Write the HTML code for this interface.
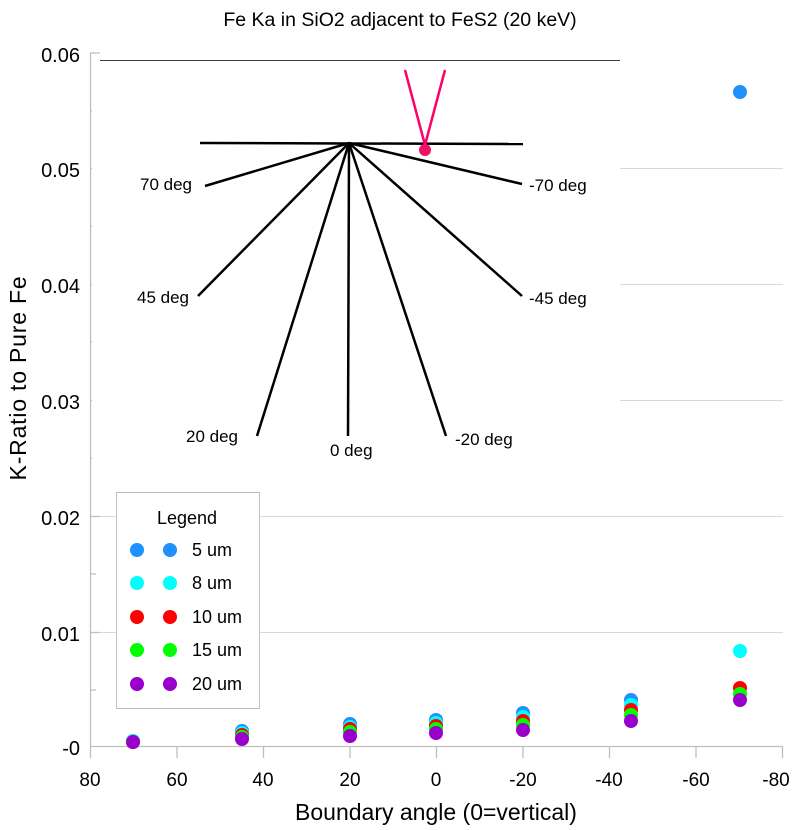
<!DOCTYPE html>
<html><head><meta charset="utf-8"><style>body{margin:0;background:#fff}svg{display:block}text{font-family:"Liberation Sans",sans-serif}</style></head><body>
<svg width="800" height="830" xmlns="http://www.w3.org/2000/svg">
<rect width="800" height="830" fill="#fff"/>
<text x="400" y="26" font-size="19.5" text-anchor="middle">Fe Ka in SiO2 adjacent to FeS2 (20 keV)</text>
<g stroke="#d9d9d9" stroke-width="1">
<line x1="90" y1="168.5" x2="783" y2="168.5"/><line x1="90" y1="284.5" x2="783" y2="284.5"/>
<line x1="90" y1="400.5" x2="783" y2="400.5"/><line x1="90" y1="516.5" x2="783" y2="516.5"/>
<line x1="90" y1="632.5" x2="783" y2="632.5"/>
</g>
<g stroke="#bfbfbf" stroke-width="1.3">
<line x1="90.5" y1="53" x2="90.5" y2="746"/><line x1="90" y1="746.5" x2="783" y2="746.5"/>
<line x1="90" y1="53" x2="100" y2="53"/><line x1="90" y1="111" x2="96" y2="111"/><line x1="90" y1="168.5" x2="100" y2="168.5"/><line x1="90" y1="226" x2="96" y2="226"/><line x1="90" y1="284.5" x2="100" y2="284.5"/><line x1="90" y1="342" x2="96" y2="342"/><line x1="90" y1="400.5" x2="100" y2="400.5"/><line x1="90" y1="458" x2="96" y2="458"/><line x1="90" y1="516.5" x2="100" y2="516.5"/><line x1="90" y1="574" x2="96" y2="574"/><line x1="90" y1="632.5" x2="100" y2="632.5"/><line x1="90" y1="690" x2="96" y2="690"/>
<line x1="90.5" y1="746" x2="90.5" y2="758"/><line x1="177" y1="746" x2="177" y2="758"/><line x1="263.5" y1="746" x2="263.5" y2="758"/><line x1="350" y1="746" x2="350" y2="758"/><line x1="436.5" y1="746" x2="436.5" y2="758"/><line x1="523" y1="746" x2="523" y2="758"/><line x1="609.5" y1="746" x2="609.5" y2="758"/><line x1="696" y1="746" x2="696" y2="758"/><line x1="782.5" y1="746" x2="782.5" y2="758"/>
</g>
<g font-size="20" text-anchor="end">
<text x="80" y="62">0.06</text><text x="80" y="177">0.05</text><text x="80" y="293">0.04</text><text x="80" y="409">0.03</text><text x="80" y="525">0.02</text><text x="80" y="641">0.01</text><text x="80" y="755">-0</text>
</g>
<g font-size="19" text-anchor="middle">
<text x="90" y="786">80</text><text x="177" y="786">60</text><text x="263" y="786">40</text><text x="350" y="786">20</text><text x="436" y="786">0</text><text x="523" y="786">-20</text><text x="609" y="786">-40</text><text x="696" y="786">-60</text><text x="776" y="786">-80</text>
</g>
<text x="436" y="820" font-size="23" text-anchor="middle">Boundary angle (0=vertical)</text>
<text transform="translate(26,378) rotate(-90)" font-size="23" text-anchor="middle" letter-spacing="0.8">K-Ratio to Pure Fe</text>
<!-- inset -->
<rect x="92" y="54" width="528" height="420" fill="#fff"/>
<line x1="100" y1="60.5" x2="620" y2="60.5" stroke="#404040" stroke-width="1"/>
<g stroke="#000" stroke-width="2.5">
<line x1="200" y1="143" x2="523" y2="144"/>
<line x1="349" y1="143" x2="205" y2="186"/><line x1="349" y1="143" x2="198" y2="296"/><line x1="349" y1="143" x2="257" y2="436"/><line x1="349" y1="143" x2="348" y2="436"/><line x1="349" y1="143" x2="446" y2="436"/><line x1="349" y1="143" x2="522" y2="296"/><line x1="349" y1="143" x2="522" y2="184"/>
</g>
<polyline points="405,70 425,145 445,70" fill="none" stroke="#ff0066" stroke-width="2.5"/>
<circle cx="425" cy="150" r="6" fill="#ee1166"/>
<g font-size="17">
<text x="140" y="190">70 deg</text><text x="137" y="303">45 deg</text><text x="186" y="442">20 deg</text><text x="330" y="456">0 deg</text><text x="455" y="445">-20 deg</text><text x="529" y="304">-45 deg</text><text x="529" y="191">-70 deg</text>
</g>
<!-- data -->
<g>
<g fill="#1e90ff"><circle cx="133" cy="741" r="7"/><circle cx="242" cy="731" r="7"/><circle cx="350" cy="724" r="7"/><circle cx="436" cy="720" r="7"/><circle cx="523" cy="713" r="7"/><circle cx="631" cy="700" r="7"/><circle cx="740" cy="92" r="7"/></g>
<g fill="#00ffff"><circle cx="133" cy="741" r="7"/><circle cx="242" cy="733" r="7"/><circle cx="350" cy="727" r="7"/><circle cx="436" cy="723" r="7"/><circle cx="523" cy="717" r="7"/><circle cx="631" cy="705" r="7"/><circle cx="740" cy="651" r="7"/></g>
<g fill="#ff0000"><circle cx="133" cy="742" r="7"/><circle cx="242" cy="735" r="7"/><circle cx="350" cy="729" r="7"/><circle cx="436" cy="726" r="7"/><circle cx="523" cy="721" r="7"/><circle cx="631" cy="710" r="7"/><circle cx="740" cy="688" r="7"/></g>
<g fill="#00ff00"><circle cx="133" cy="742" r="7"/><circle cx="242" cy="737" r="7"/><circle cx="350" cy="732" r="7"/><circle cx="436" cy="729" r="7"/><circle cx="523" cy="725" r="7"/><circle cx="631" cy="715" r="7"/><circle cx="740" cy="694" r="7"/></g>
<g fill="#9900cc"><circle cx="133" cy="742" r="7"/><circle cx="242" cy="739" r="7"/><circle cx="350" cy="736" r="7"/><circle cx="436" cy="733" r="7"/><circle cx="523" cy="730" r="7"/><circle cx="631" cy="721" r="7"/><circle cx="740" cy="700" r="7"/></g>
</g>
<!-- legend -->
<rect x="116.5" y="492.5" width="143" height="216" fill="#fff" stroke="#bfbfbf"/>
<text x="187" y="524" font-size="18" text-anchor="middle">Legend</text>
<g font-size="18">
<circle cx="137" cy="550" r="7" fill="#1e90ff"/><circle cx="170" cy="550" r="7" fill="#1e90ff"/><text x="192" y="556">5 um</text>
<circle cx="137" cy="583" r="7" fill="#00ffff"/><circle cx="170" cy="583" r="7" fill="#00ffff"/><text x="192" y="589">8 um</text>
<circle cx="137" cy="617" r="7" fill="#ff0000"/><circle cx="170" cy="617" r="7" fill="#ff0000"/><text x="192" y="623">10 um</text>
<circle cx="137" cy="650" r="7" fill="#00ff00"/><circle cx="170" cy="650" r="7" fill="#00ff00"/><text x="192" y="656">15 um</text>
<circle cx="137" cy="684" r="7" fill="#9900cc"/><circle cx="170" cy="684" r="7" fill="#9900cc"/><text x="192" y="690">20 um</text>
</g>
</svg>
</body></html>
